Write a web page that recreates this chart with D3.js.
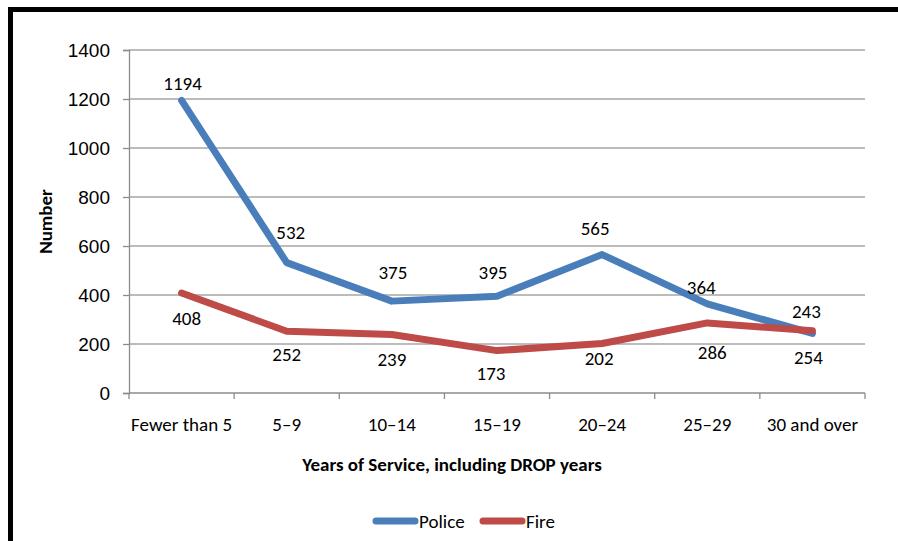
<!DOCTYPE html>
<html>
<head>
<meta charset="utf-8">
<script src="https://cdn.jsdelivr.net/npm/d3@7"></script>
<style>
  html, body { margin: 0; padding: 0; background: #fff; }
  svg { display: block; font-family: Carlito, Calibri, "Open Sans", sans-serif; }
</style>
</head>
<body>
<svg id="chart" width="898" height="541"></svg>
<script>
// Years-of-service buckets and member counts
const categories = ["Fewer than 5", "5–9", "10–14", "15–19", "20–24", "25–29", "30 and over"];
const policeValues = [1194, 532, 375, 395, 565, 364, 243];
const fireValues = [408, 252, 239, 173, 202, 286, 254];
const yTicks = [0, 200, 400, 600, 800, 1000, 1200, 1400];

// Label nudges (px) so value labels sit clear of the lines
const policeLabelNudge = [[1, -17], [4, -30], [1, -29], [-4, -24], [-7, -26], [-6, -16], [-6, -22]];
const fireLabelNudge = [[5, 25], [0, 23], [0, 25], [-6, 23], [-3, 15], [5, 29], [-4, 27]];

const series = [
  { name: "Police", values: policeValues, color: "#4A7EBB", nudge: policeLabelNudge },
  { name: "Fire", values: fireValues, color: "#BE4B48", nudge: fireLabelNudge }
];

const FS = 19;
const svg = d3.select("#chart");
const margin = { left: 129, right: 33, top: 50, bottom: 148 };
const W = 898, H = 541;

// Frame: heavy rule along the top and left edges
svg.append("rect").attr("x", 8).attr("y", 7).attr("width", 890).attr("height", 5).attr("fill", "#000");
svg.append("rect").attr("x", 8).attr("y", 7).attr("width", 5).attr("height", 534).attr("fill", "#000");

const x = d3.scaleBand().domain(categories).range([margin.left, W - margin.right]).padding(0);
const y = d3.scaleLinear().domain([0, 1400]).range([H - margin.bottom, margin.top]);

// Horizontal gridlines
svg.append("g")
  .selectAll("line")
  .data(yTicks.filter(d => d > 0))
  .join("line")
  .attr("x1", margin.left).attr("x2", W - margin.right)
  .attr("y1", d => y(d)).attr("y2", d => y(d))
  .attr("stroke", "#a6a6a6").attr("stroke-width", 1.3);

// Y axis
const yAxis = svg.append("g")
  .attr("transform", `translate(${margin.left},0)`)
  .call(d3.axisLeft(y).tickValues(yTicks).tickFormat(d3.format("d")).tickSize(6).tickPadding(13));
yAxis.select(".domain").attr("stroke", "#8c8c8c").attr("stroke-width", 1.3);
yAxis.selectAll(".tick line").attr("stroke", "#8c8c8c").attr("stroke-width", 1.3);
yAxis.selectAll(".tick text").attr("font-size", FS).attr("fill", "#000").attr("font-family", null);

// X axis with ticks between categories
const xAxisG = svg.append("g").attr("transform", `translate(0,${y(0)})`);
xAxisG.append("line")
  .attr("x1", margin.left).attr("x2", W - margin.right)
  .attr("y1", 0).attr("y2", 0)
  .attr("stroke", "#8c8c8c").attr("stroke-width", 1.3);
const boundaries = categories.map(c => x(c)).concat([x(categories[categories.length - 1]) + x.bandwidth()]);
xAxisG.selectAll("line.tick")
  .data(boundaries)
  .join("line")
  .attr("class", "tick")
  .attr("x1", d => d).attr("x2", d => d)
  .attr("y1", 0).attr("y2", 6)
  .attr("stroke", "#8c8c8c").attr("stroke-width", 1.3);
xAxisG.selectAll("text")
  .data(categories)
  .join("text")
  .attr("x", d => x(d) + x.bandwidth() / 2)
  .attr("y", 31)
  .attr("dy", "0.35em")
  .attr("text-anchor", "middle")
  .attr("font-size", FS)
  .text(d => d);

// Axis titles
svg.append("text")
  .attr("transform", `translate(45,${(y(0) + y(1400)) / 2}) rotate(-90)`)
  .attr("dy", "0.35em")
  .attr("text-anchor", "middle")
  .attr("font-size", FS)
  .attr("font-weight", "bold")
  .text("Number");
svg.append("text")
  .attr("x", 452)
  .attr("y", 464)
  .attr("dy", "0.35em")
  .attr("text-anchor", "middle")
  .attr("font-size", FS)
  .attr("font-weight", "bold")
  .text("Years of Service, including DROP years");

// Lines
const cx = c => x(c) + x.bandwidth() / 2;
const line = d3.line().x((d, i) => cx(categories[i])).y(d => y(d));
series.forEach(s => {
  svg.append("path")
    .datum(s.values)
    .attr("d", line)
    .attr("fill", "none")
    .attr("stroke", s.color)
    .attr("stroke-width", 7)
    .attr("stroke-linejoin", "round")
    .attr("stroke-linecap", "round");
});

// Value labels
series.forEach(s => {
  svg.append("g")
    .selectAll("text")
    .data(s.values)
    .join("text")
    .attr("x", (d, i) => cx(categories[i]) + s.nudge[i][0])
    .attr("y", (d, i) => y(d) + s.nudge[i][1])
    .attr("dy", "0.35em")
    .attr("text-anchor", "middle")
    .attr("font-size", FS)
    .text(d => d);
});

// Legend
const legend = svg.append("g").attr("transform", "translate(373,521)");
const legendItems = [{ s: series[0], x: 0 }, { s: series[1], x: 107 }];
legendItems.forEach(it => {
  legend.append("line")
    .attr("x1", it.x + 3).attr("x2", it.x + 42)
    .attr("y1", 0).attr("y2", 0)
    .attr("stroke", it.s.color).attr("stroke-width", 7)
    .attr("stroke-linecap", "round");
  legend.append("text")
    .attr("x", it.x + 46).attr("y", 0)
    .attr("dy", "0.35em")
    .attr("font-size", FS)
    .text(it.s.name);
});
</script>
</body>
</html>
